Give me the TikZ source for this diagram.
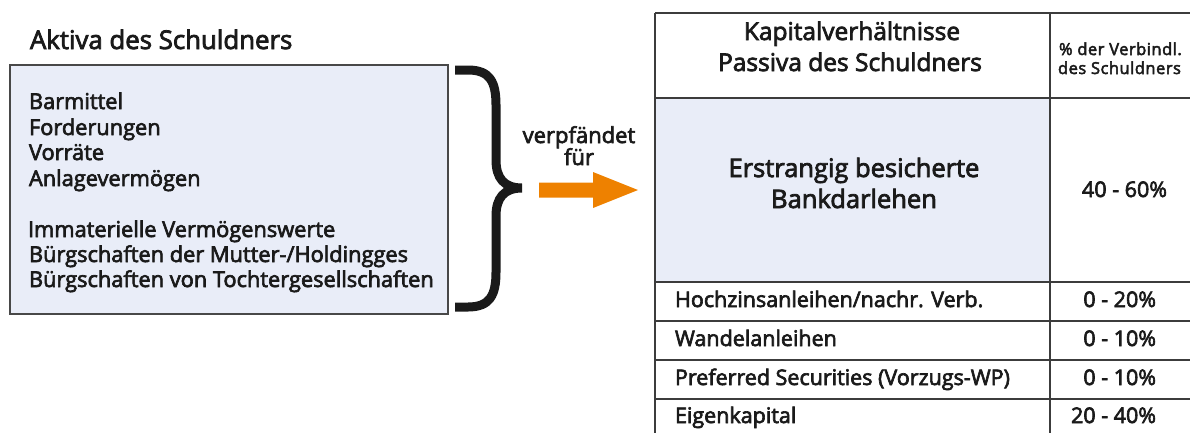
\documentclass[tikz,border=0pt]{standalone}
\usepackage{fontspec}
\setmainfont{Open Sans}[FakeBold=3]
\definecolor{boxblue}{HTML}{E9EDF8}
\definecolor{arroworange}{HTML}{EE8100}
\definecolor{txt}{HTML}{1A1A1A}
\begin{document}
\begin{tikzpicture}[x=1pt,y=-1pt,
  every node/.style={inner sep=0pt,outer sep=0pt,text=txt},
  frame/.style={draw=txt!80,line width=1.6pt},
  tline/.style={draw=txt!85,line width=1.6pt},
  bodytxt/.style={font=\fontsize{21.5}{25}\selectfont},
  listtxt/.style={font=\fontsize{21.8}{25}\selectfont},
  headtxt/.style={font=\fontsize{24.5}{31}\selectfont},
  bigtxt/.style={font=\fontsize{25.5}{31}\selectfont},
  titletxt/.style={font=\fontsize{25.8}{30}\selectfont},
  smalltxt/.style={font=\fontsize{16.5}{22}\selectfont\addfontfeature{LetterSpace=3}},
  verptxt/.style={font=\fontsize{22}{22}\selectfont},
]
\useasboundingbox[clip] (0,0) rectangle (1190,432);
% left title
\node[titletxt,anchor=base west] (ltitle) at (30,49) {Aktiva des Schuldners};
% left box
\path[fill=boxblue,frame] (10,65) rectangle (448,314);
\node[listtxt,anchor=base west] (a1) at (29,109) {Barmittel};
\node[listtxt,anchor=base west] (a2) at (29,135) {Forderungen};
\node[listtxt,anchor=base west] (a3) at (29,160) {Vorräte};
\node[listtxt,anchor=base west] (a4) at (29,186) {Anlagevermögen};
\node[listtxt,anchor=base west] (a5) at (28,237) {Immaterielle Vermögenswerte};
\node[listtxt,anchor=base west] (a6) at (29,262) {Bürgschaften der Mutter-/Holdingges};
\node[listtxt,anchor=base west] (a7) at (29,287) {Bürgschaften von Tochtergesellschaften};
% brace
\draw[line width=9pt,txt] (455,70) -- (468,70) .. controls (490,70) and (496,82) .. (496,105)
  -- (496,160) .. controls (496,178) and (504,188) .. (522,188)
  .. controls (504,188) and (496,198) .. (496,216)
  -- (496,272) .. controls (496,295) and (490,307) .. (468,307) -- (455,307);
% verpfändet für
\node[verptxt,anchor=base] (verp1) at (579,143) {verpfändet};
\node[verptxt,anchor=base] (verp2) at (579,165) {für};
% arrow
\fill[arroworange] (539,182.5) -- (593,182.5) -- (593,172) -- (638,190) -- (593,208) -- (593,197.5) -- (539,197.5) -- cycle;
% table
\fill[boxblue] (655,98) rectangle (1050,282);
\draw[tline] (655,13) -- (1200,13);
\draw[tline] (655,13) -- (655,440);
\draw[tline] (1050,13) -- (1050,440);
\draw[tline] (655,98) -- (1200,98);
\draw[tline] (655,282) -- (1200,282);
\draw[tline] (655,321) -- (1200,321);
\draw[tline] (655,360) -- (1200,360);
\draw[tline] (655,399) -- (1200,399);
\draw[tline] (655,438) -- (1200,438);
\node[headtxt,anchor=base] (h1) at (852,40) {Kapitalverhältnisse};
\node[headtxt,anchor=base] (h2) at (850,71) {Passiva des Schuldners};
\node[smalltxt,anchor=base west] (h3) at (1059,55) {\% der Verbindl.};
\node[smalltxt,anchor=base west] (h4) at (1058,74) {des Schuldners};
\node[bigtxt,anchor=base] (r1a) at (854,177) {Erstrangig besicherte};
\node[bigtxt,anchor=base] (r1b) at (854,208) {Bankdarlehen};
\node[bodytxt,anchor=base east] (v1) at (1167,197) {40 - 60\%};
\node[bodytxt,anchor=base west] (r2) at (675,307) {Hochzinsanleihen/nachr. Verb.};
\node[bodytxt,anchor=base east] (v2) at (1156,307) {0 - 20\%};
\node[bodytxt,anchor=base west] (r3) at (675,346) {Wandelanleihen};
\node[bodytxt,anchor=base east] (v3) at (1156,346) {0 - 10\%};
\node[bodytxt,anchor=base west] (r4) at (675,385) {Preferred Securities (Vorzugs-WP)};
\node[bodytxt,anchor=base east] (v4) at (1156,385) {0 - 10\%};
\node[bodytxt,anchor=base west] (r5) at (675,423) {Eigenkapital};
\node[bodytxt,anchor=base east] (v5) at (1156,423) {20 - 40\%};
\end{tikzpicture}
\end{document}
